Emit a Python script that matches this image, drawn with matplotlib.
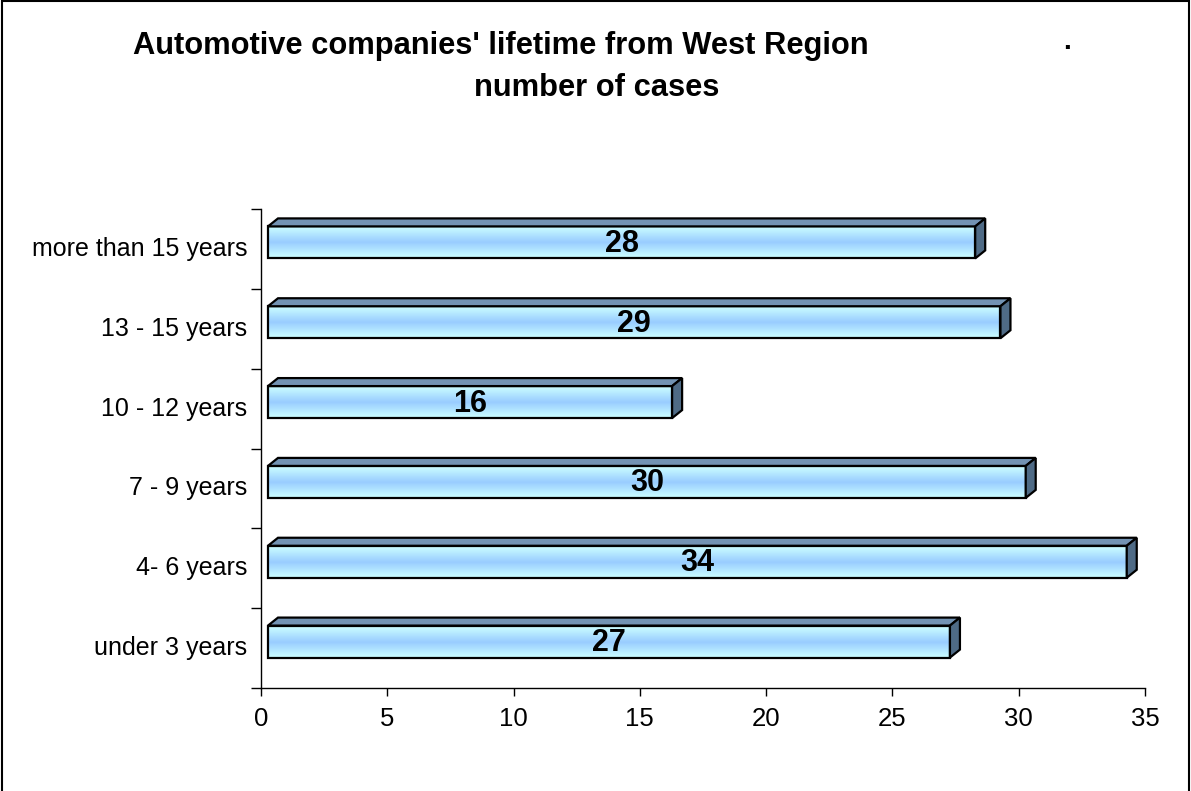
import numpy as np
import matplotlib
matplotlib.use("Agg")
import matplotlib.pyplot as plt
from matplotlib.patches import Polygon, Rectangle
from matplotlib.colors import LinearSegmentedColormap

plt.rcParams['font.family'] = ['Liberation Sans', 'DejaVu Sans']

categories = ["under 3 years", "4- 6 years", "7 - 9 years", "10 - 12 years",
              "13 - 15 years", "more than 15 years"]
values = [27, 34, 30, 16, 29, 28]
x_ticks = [0, 5, 10, 15, 20, 25, 30, 35]

W, H = 1191, 791
fig = plt.figure(figsize=(W / 100, H / 100), dpi=100)
ax = fig.add_axes([261 / W, 1 - 688 / H, (1145 - 261) / W, (688 - 209) / H])

# pixel -> data conversion for the fake 3D look
px_x = (1145 - 261) / 35.0
px_y = (688 - 209) / 6.0
off = 7 / px_x        # front face starts a bit right of the axis
dx = 10 / px_x        # depth to the right
dy = 8 / px_y         # depth upwards
yc = 6.5 / px_y       # front face centre above category centre
hh = 16 / px_y        # half height of front face

grad = LinearSegmentedColormap.from_list("bar", ["#ccffff", "#99ccff", "#ccffff"])
gimg = np.linspace(0, 1, 64).reshape(-1, 1)

for i, v in enumerate(values):
    x0, x1 = off, off + v
    y0, y1 = i + yc - hh, i + yc + hh
    front = Rectangle((x0, y0), v, y1 - y0, facecolor="none", edgecolor="black", lw=1.6, zorder=4)
    ax.add_patch(front)
    im = ax.imshow(gimg, cmap=grad, extent=[x0, x1, y0, y1], aspect="auto",
                   origin="lower", zorder=3, interpolation="bilinear")
    im.set_clip_path(front)
    top = Polygon([[x0, y1], [x0 + dx, y1 + dy], [x1 + dx, y1 + dy], [x1, y1]],
                  closed=True, facecolor="#7393b3", edgecolor="black", lw=1.6, zorder=4)
    side = Polygon([[x1, y0], [x1, y1], [x1 + dx, y1 + dy], [x1 + dx, y0 + dy]],
                   closed=True, facecolor="#4f6b86", edgecolor="black", lw=1.6, zorder=4)
    ax.add_patch(top)
    ax.add_patch(side)
    ax.text(off + v / 2, i + yc - 1.5 / px_y, str(v), ha="center", va="center",
            fontsize=22, fontweight="bold", zorder=5)

ax.set_xlim(0, 35)
ax.set_ylim(-0.5, 5.5)
ax.set_xticks(x_ticks)
ax.set_xticklabels([str(t) for t in x_ticks], fontsize=18.5)
ax.set_yticks(np.arange(-0.5, 6.0, 1.0))
ax.set_yticklabels([])
ax.set_yticks(np.arange(6), minor=True)
ax.set_yticklabels(categories, minor=True, fontsize=18, va="center")
ax.tick_params(axis="y", which="major", length=7, width=1, direction="out")
ax.tick_params(axis="y", which="minor", length=0, pad=10)
ax.tick_params(axis="x", length=6, width=1, direction="out", pad=8)
for s in ["top", "right"]:
    ax.spines[s].set_visible(False)
for s in ["left", "bottom"]:
    ax.spines[s].set_linewidth(1)
ax.patch.set_alpha(0)

# title
fig.text(133 / W, 1 - 54 / H, "Automotive companies' lifetime from West Region",
         fontsize=22.2, fontweight="bold", ha="left", va="baseline")
fig.text(1067 / W, 1 - 49 / H, ".", fontsize=20, fontweight="bold", ha="center", va="baseline")
fig.text(597 / W, 1 - 96 / H, "number of cases", fontsize=22.2, fontweight="bold",
         ha="center", va="baseline")

# chart border
fig.patches.append(Rectangle((2 / W, -0.05), (1189 - 2) / W, 1.05 - 0.6 / H,
                             transform=fig.transFigure, fill=False, edgecolor="black", lw=1.5))

fig.savefig("out.png", dpi=100)
